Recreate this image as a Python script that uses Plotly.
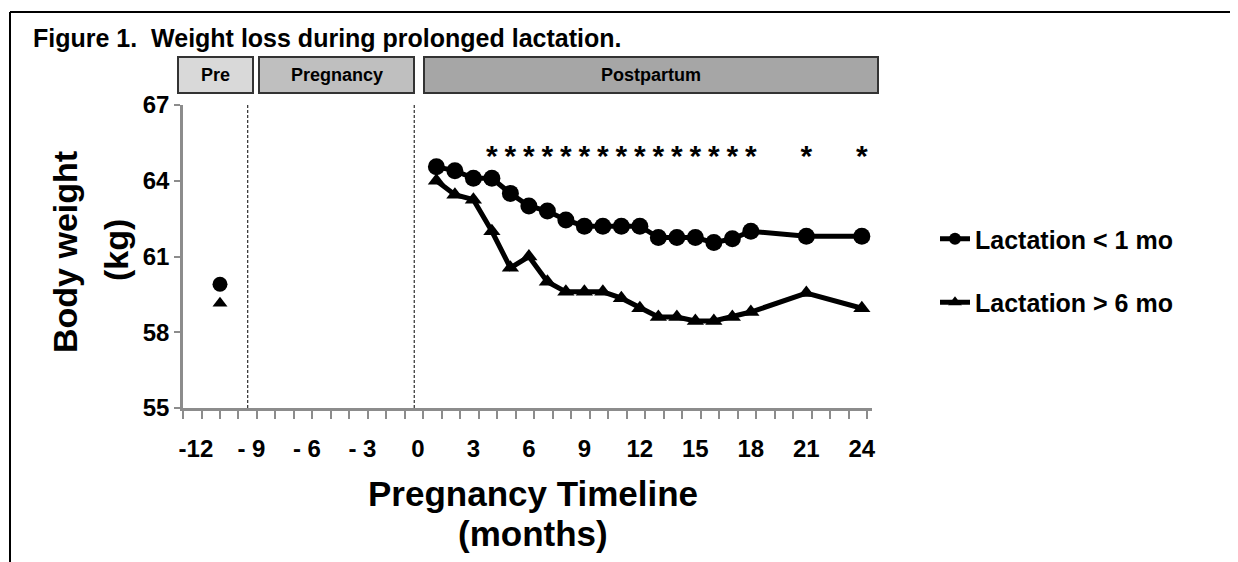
import plotly.graph_objects as go

# ---------------- data ----------------
months = [1, 2, 3, 4, 5, 6, 7, 8, 9, 10, 11, 12, 13, 14, 15, 16, 17, 18, 21, 24]
lact_short = [64.55, 64.4, 64.1, 64.1, 63.5, 63.0, 62.8, 62.45, 62.2, 62.2, 62.2, 62.2,
              61.75, 61.75, 61.75, 61.55, 61.7, 62.0, 61.8, 61.8]
lact_long = [64.0, 63.45, 63.25, 62.0, 60.55, 61.0, 60.0, 59.6, 59.6, 59.6, 59.35, 58.95,
             58.6, 58.6, 58.45, 58.45, 58.6, 58.8, 59.55, 58.95]
pre_month = [-10.7]
pre_short = [59.9]
pre_long = [59.15]
sig_months = [4, 5, 6, 7, 8, 9, 10, 11, 12, 13, 14, 15, 16, 17, 18, 21, 24]
sig_level = 64.9
x_tickvals = [-12, -9, -6, -3, 0, 3, 6, 9, 12, 15, 18, 21, 24]
x_ticktext = ["-12", "- 9", "- 6", "- 3", "0", "3", "6", "9", "12", "15", "18", "21", "24"]
y_tickvals = [55, 58, 61, 64, 67]
divider_months = [-9.2, -0.2]
phase_names = ["Pre", "Pregnancy", "Postpartum"]
phase_fill = ["#d9d9d9", "#bfbfbf", "#a6a6a6"]

X_RANGE = [-12.7, 24.55]
Y_RANGE = [55, 67]

# ---------------- layout geometry (screen px, page has 8px body margin) ----------------
W, H = 1238, 562
OFF = 8
PX_L, PX_R, PX_T, PX_B = 183, 872, 105, 408          # plot area on screen
L, R, T, B = PX_L - OFF, W - (PX_R - OFF), PX_T - OFF, H - (PX_B - OFF)
PW, PH = PX_R - PX_L, PX_B - PX_T


def fx(sx):
    return (sx - PX_L) / PW


def fy(sy):
    return (PX_B - sy) / PH


phase_px = [(178, 253), (259, 414), (424, 878)]
phase_py = (57, 93)

FONT = "Liberation Sans, Arial, sans-serif"

fig = go.Figure()

fig.add_trace(go.Scatter(
    x=months, y=lact_short, mode="lines+markers", name="<b>Lactation < 1 mo</b>",
    line=dict(color="black", width=5), marker=dict(symbol="circle", size=17, color="black"),
    legendgroup="a",
))
fig.add_trace(go.Scatter(
    x=months, y=lact_long, mode="lines+markers", name="<b>Lactation > 6 mo</b>",
    line=dict(color="black", width=5), marker=dict(symbol="triangle-up", size=15, color="black"),
    legendgroup="b",
))
fig.add_trace(go.Scatter(
    x=pre_month, y=pre_short, mode="markers", showlegend=False,
    marker=dict(symbol="circle", size=15, color="black"),
))
fig.add_trace(go.Scatter(
    x=pre_month, y=pre_long, mode="markers", showlegend=False,
    marker=dict(symbol="triangle-up", size=13, color="black"),
))
fig.add_trace(go.Scatter(
    x=sig_months, y=[sig_level] * len(sig_months), mode="text", text=["<b>*</b>"] * len(sig_months),
    textfont=dict(size=30, color="black", family=FONT), showlegend=False,
))

# dashed dividers
for m in divider_months:
    fig.add_shape(type="line", xref="x", yref="y", x0=m, x1=m, y0=Y_RANGE[0], y1=Y_RANGE[1],
                  line=dict(color="black", width=1, dash="3px,2px"))

# phase boxes
for name, (s, e), c in zip(phase_names, phase_px, phase_fill):
    fig.add_shape(type="rect", xref="paper", yref="paper", x0=fx(s), x1=fx(e),
                  y0=fy(phase_py[1]), y1=fy(phase_py[0]),
                  fillcolor=c, line=dict(color="#333333", width=2), layer="above")
    fig.add_annotation(xref="paper", yref="paper", x=fx((s + e) / 2), y=fy(sum(phase_py) / 2),
                       xanchor="center", yanchor="middle",
                       text="<b>" + name + "</b>", showarrow=False,
                       font=dict(size=18, color="black", family=FONT))

# frame (left and top border)
fig.add_shape(type="line", xref="paper", yref="paper", x0=fx(10), x1=fx(10), y0=fy(H + 20), y1=fy(12),
              line=dict(color="black", width=2))
fig.add_shape(type="line", xref="paper", yref="paper", x0=fx(10), x1=fx(W + 20), y0=fy(12), y1=fy(12),
              line=dict(color="black", width=2))

# title
fig.add_annotation(xref="paper", yref="paper", x=fx(31), y=fy(38),
                   xanchor="left", yanchor="middle", showarrow=False,
                   text="<b>Figure 1.  Weight loss during prolonged lactation.</b>",
                   font=dict(size=25, color="black", family=FONT))

# y-axis title (two lines)
fig.add_annotation(xref="paper", yref="paper", x=fx(65), y=fy(252), xanchor="center", yanchor="middle",
                   text="<b>Body weight</b>", textangle=-90, showarrow=False,
                   font=dict(size=34, color="black", family=FONT))
fig.add_annotation(xref="paper", yref="paper", x=fx(116), y=fy(250), xanchor="center", yanchor="middle",
                   text="<b>(kg)</b>", textangle=-90, showarrow=False,
                   font=dict(size=34, color="black", family=FONT))
# x-axis title (two lines)
fig.add_annotation(xref="paper", yref="paper", x=fx(533), y=fy(493), xanchor="center", yanchor="middle",
                   text="<b>Pregnancy Timeline</b>", showarrow=False,
                   font=dict(size=35, color="black", family=FONT))
fig.add_annotation(xref="paper", yref="paper", x=fx(533), y=fy(533), xanchor="center", yanchor="middle",
                   text="<b>(months)</b>", showarrow=False,
                   font=dict(size=35, color="black", family=FONT))

minor_ticks = [X_RANGE[0] + k for k in range(int(X_RANGE[1] - X_RANGE[0]) + 1)]

fig.update_layout(
    width=W, height=H, margin=dict(l=L, r=R, t=T, b=B, autoexpand=False),
    paper_bgcolor="white", plot_bgcolor="white",
    font=dict(family=FONT, color="black"),
    legend=dict(x=fx(935), y=fy(216), xanchor="left", yanchor="top", tracegroupgap=28,
                font=dict(size=25, color="black", family=FONT), itemsizing="constant",
                bgcolor="rgba(0,0,0,0)"),
    xaxis=dict(range=X_RANGE, tickvals=x_tickvals, ticktext=["<b>" + t + "</b>" for t in x_ticktext],
               showgrid=False, zeroline=False, showline=True, linecolor="#8c8c8c", linewidth=2.5,
               ticks="",
               minor=dict(tickvals=minor_ticks, ticks="outside", ticklen=8, tickwidth=2,
                          tickcolor="#8c8c8c", showgrid=False),
               tickfont=dict(size=24, family=FONT, color="black"), ticklabelstandoff=17),
    yaxis=dict(range=Y_RANGE, tickvals=y_tickvals, ticktext=["<b>" + str(v) + "</b>" for v in y_tickvals],
               showgrid=False, zeroline=False, showline=True, linecolor="#8c8c8c", linewidth=2.5,
               ticks="outside", ticklen=6, tickwidth=2, tickcolor="#8c8c8c",
               tickfont=dict(size=24, family=FONT, color="black")),
)

fig.write_html("out.html")
